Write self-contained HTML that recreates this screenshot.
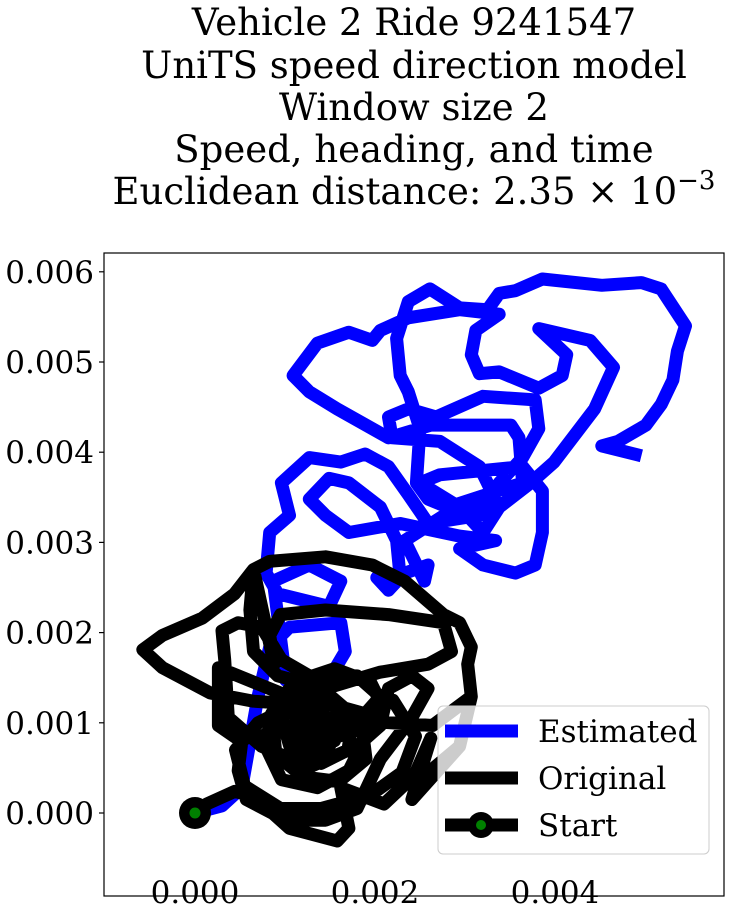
<!DOCTYPE html>
<html><head><meta charset="utf-8"><style>
html,body{margin:0;padding:0;background:#fff;}
svg{display:block;font-family:"DejaVu Serif","Liberation Serif",serif;}
</style></head><body>
<svg id="chart" width="733" height="916" viewBox="0 0 733 916" xmlns="http://www.w3.org/2000/svg">
<g font-size="37" text-anchor="middle" fill="#000">
<text x="414" y="35">Vehicle 2 Ride 9241547</text>
<text x="414" y="78">UniTS speed direction model</text>
<text x="414" y="120">Window size 2</text>
<text x="414" y="162">Speed, heading, and time</text>
<text x="414" y="204">Euclidean distance: 2.35 × 10<tspan font-size="26" dy="-15">−3</tspan></text>
</g>
<defs><clipPath id="clip"><rect x="104" y="253" width="620" height="643"/></clipPath></defs>
<g id="marks" clip-path="url(#clip)"></g>
<rect x="104" y="253" width="620" height="643" fill="none" stroke="#000" stroke-width="1.2"/>
<g id="ticks"></g>
<g>
<rect x="438" y="706" width="271" height="148" rx="5" fill="#fff" fill-opacity="0.8" stroke="#ccc" stroke-width="1"/>
<line x1="445" y1="731" x2="518" y2="731" stroke="#0000ff" stroke-width="13"/>
<text x="538" y="742" font-size="31">Estimated</text>
<line x1="445" y1="778" x2="518" y2="778" stroke="#000" stroke-width="13"/>
<text x="538" y="789" font-size="31">Original</text>
<line x1="445" y1="825" x2="518" y2="825" stroke="#000" stroke-width="13"/>
<circle cx="481" cy="825" r="13" fill="#000"/>
<circle cx="481" cy="825" r="5" fill="#008000"/>
<text x="538" y="836" font-size="31">Start</text>
</g>
</svg>
<script>
// values in units of 1e-3
const estX=[0,0.30,0.52,0.70,0.83,1.05,1.62,1.67,1.45,1.01,0.87,1.27,1.62,1.49,0.92,0.79,0.83,1.05,0.96,1.27,1.62,1.89,2.15,2.37,2.59,3.16,3.38,3.64,3.82,3.78,3.20,2.68,2.37,2.15,2.19,2.72,3.16,3.38,3.20,2.94,2.50,2.72,3.64,3.86,3.86,3.78,3.56,3.20,2.94,3.34,2.94,2.28,1.71,1.45,1.27,1.49,1.71,2.06,2.24,2.28,2.15,2.02,2.33,2.59,2.55,2.33,2.77,3.38,3.73,3.99,4.44,4.65,4.39,3.82,4.13,4.08,3.82,3.38,3.16,3.07,3.12,3.38,2.94,2.37,2.06,1.97,1.71,1.36,1.09,1.27,1.58,2.15,2.62,3.03,3.51,3.60,3.64,2.81,2.59,2.46,2.50,2.37,2.28,2.24,2.37,2.61,2.94,3.25,3.38,3.56,3.86,4.52,4.96,5.18,5.45,5.36,5.31,5.18,5.01,4.70,4.52,4.96];
const estY=[0,0.08,0.28,1.29,1.84,2.06,2.11,1.79,1.42,1.47,2.57,2.75,2.57,2.29,2.43,2.66,3.11,3.30,3.66,3.94,3.89,3.98,3.84,3.53,3.21,3.30,3.66,3.94,4.26,4.58,4.62,4.39,4.48,4.39,4.16,4.12,3.84,3.39,3.11,3.39,3.66,3.75,3.84,3.57,3.11,2.75,2.66,2.75,2.93,3.02,3.07,3.21,3.11,3.30,3.48,3.71,3.66,3.39,3.02,2.61,2.47,2.61,2.66,2.75,2.57,3.02,3.30,3.39,3.66,3.89,4.48,4.94,5.24,5.37,5.08,4.85,4.71,4.89,4.87,5.08,5.35,5.53,5.58,5.49,5.35,5.24,5.33,5.21,4.85,4.67,4.48,4.16,4.30,4.30,4.30,4.16,3.66,3.39,3.48,3.66,4.26,4.67,4.85,5.26,5.67,5.81,5.60,5.58,5.76,5.79,5.92,5.85,5.88,5.81,5.40,5.12,4.80,4.53,4.30,4.12,4.07,3.96];
const origX=[0,0.13,0.44,0.65,1.05,1.58,1.71,1.62,2.10,2.44,2.62,2.41,2.94,3.07,3.03,3.07,2.94,2.76,2.33,1.97,1.45,0.83,0.65,0.61,0.65,0.92,1.45,2.05,2.59,2.85,2.76,2.15,1.45,0.95,0.83,0.88,0.65,0.44,0.08,-0.36,-0.58,-0.36,0.17,0.65,1.27,0.26,0.26,0.52,0.48,0.57,1.01,1.45,1.80,2.06,2.41,2.59,2.41,2.15,2.06,1.80,1.27,0.74,0.37,0.33,0.30,0.48,0.74,0.96,1.27,1.80,2.06,1.89,1.53,1.01,0.74,0.96,1.36,1.71,1.89,1.71,1.36,1.10,1.19,1.49,1.62,1.36,1.10,1.27,1.80,2.10,1.95,1.55,1.10,0.85,0.90,1.20,1.60,1.90,1.85,1.50,1.15,0.95,1.05,1.40,1.70,1.75,1.45,1.20,1.05,1.25,1.55,1.60,1.35,1.15,1.30,1.50,2.20,2.45,2.30,1.95,1.40,0.95,0.55,0.45,0.70,1.00,1.35,1.40,2.64,3.07,2.94,2.50,2.41];
const origY=[0,0.10,0.24,0.19,-0.17,-0.31,-0.17,0.28,0.10,0.42,0.83,0.15,0.74,1.29,1.65,1.84,2.11,2.20,2.57,2.75,2.84,2.79,2.70,2.25,1.79,1.52,1.38,1.56,1.65,1.79,2.11,2.20,2.25,2.20,1.97,1.65,2.70,2.43,2.16,1.97,1.81,1.61,1.33,1.24,1.20,1.61,0.97,0.79,0.47,0.15,-0.08,-0.08,0.05,0.60,1.06,1.38,1.52,1.38,0.97,0.74,0.51,0.74,1.06,1.70,2.02,2.11,2.06,1.70,1.52,1.52,1.29,1.10,1.20,1.10,0.83,0.37,0.28,0.47,0.83,1.10,1.01,0.83,0.60,0.74,0.97,1.10,0.97,0.74,0.92,1.15,1.45,1.60,1.45,1.10,0.65,0.40,0.35,0.60,1.00,1.30,1.35,1.10,0.75,0.55,0.70,1.05,1.25,1.15,0.90,0.70,0.80,1.00,1.10,0.95,0.85,0.90,1.25,0.85,0.45,0.20,0.05,0.05,0.30,0.70,1.00,1.15,1.30,1.05,0.97,1.29,0.74,0.37,0.15];
const xTicks=[0,2,4];
const yTicks=[0,1,2,3,4,5,6];
const xTickLabels=["0.000","0.002","0.004"];
const yTickLabels=["0.000","0.001","0.002","0.003","0.004","0.005","0.006"];
const NS="http://www.w3.org/2000/svg";
const xs=v=>195+v*90;
const ys=v=>813-v*90.2;
function mk(t,a){const e=document.createElementNS(NS,t);for(const k in a)e.setAttribute(k,a[k]);return e;}
const marks=document.getElementById('marks');
function path(X,Y,color){
  const d=X.map((v,i)=>(i?'L':'M')+xs(v).toFixed(1)+' '+ys(Y[i]).toFixed(1)).join(' ');
  return mk('path',{d:d,fill:'none',stroke:color,'stroke-width':13,'stroke-linejoin':'round','stroke-linecap':'butt'});
}
const pe=path(estX,estY,'#0000ff');


marks.appendChild(pe);
const po=path(origX,origY,'#000');


marks.appendChild(po);
const c1=mk('circle',{cx:xs(origX[0]),cy:ys(origY[0]),r:16,fill:'#000'});


marks.appendChild(c1);
const c2=mk('circle',{cx:xs(origX[0]),cy:ys(origY[0]),r:5.5,fill:'#008000'});


marks.appendChild(c2);
const tg=document.getElementById('ticks');
xTicks.forEach((v,i)=>{
  const l=mk('line',{x1:xs(v),x2:xs(v),y1:896,y2:901,stroke:'#000','stroke-width':1.2});
  
  
  tg.appendChild(l);
  const t=mk('text',{x:xs(v),y:903,'font-size':31,'text-anchor':'middle'});
  
  
  t.textContent=xTickLabels[i];tg.appendChild(t);
});
yTicks.forEach((v,i)=>{
  const l=mk('line',{x1:99,x2:104,y1:ys(v),y2:ys(v),stroke:'#000','stroke-width':1.2});
  
  
  tg.appendChild(l);
  const t=mk('text',{x:94,y:ys(v)+11,'font-size':31,'text-anchor':'end'});
  
  
  t.textContent=yTickLabels[i];tg.appendChild(t);
});
</script>
</body></html>
